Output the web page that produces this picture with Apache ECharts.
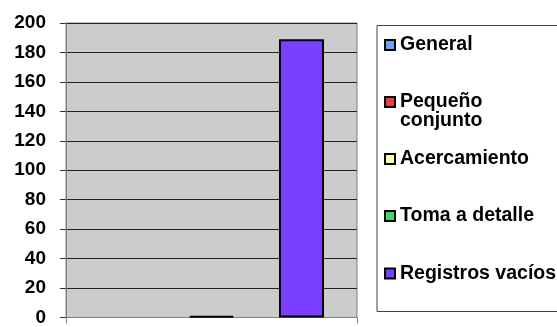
<!DOCTYPE html>
<html>
<head>
<meta charset="utf-8">
<script src="https://cdn.jsdelivr.net/npm/echarts@6/dist/echarts.min.js"></script>
<style>html,body{margin:0;padding:0;background:#fff}#c{width:557px;height:327px}</style>
</head>
<body>
<div id="c"></div>
<script>
var categories = [''];
var seriesNames = ['General', 'Pequeño conjunto', 'Acercamiento', 'Toma a detalle', 'Registros vacíos'];
var generalValues = [null];
var pequenoValues = [null];
var acercamientoValues = [1];
var tomaValues = [null];
var registrosValues = [189];
var yTicks = { min: 0, max: 200, interval: 20 };

var seriesValues = [generalValues, pequenoValues, acercamientoValues, tomaValues, registrosValues];
var colors = ['#63A4F7', '#E5443B', '#FFFF99', '#45D36B', '#7B3FFF'];
var legendCenters = [44.5, 102, 158.5, 215.5, 273];
var FONT = "'Liberation Sans', Arial, sans-serif";

var chart = echarts.init(document.getElementById('c'), null, { renderer: 'canvas' });

var legends = seriesNames.map(function (name, i) {
  var twoLine = name === 'Pequeño conjunto';
  return {
    data: [name],
    orient: 'vertical',
    left: 384,
    top: twoLine ? legendCenters[i] - 29 : legendCenters[i] - 9.5,
    padding: 0,
    itemWidth: 10,
    itemHeight: 10,
    icon: 'rect',
    selectedMode: false,
    itemStyle: { borderColor: '#000', borderWidth: 2 },
    formatter: twoLine ? function () { return ' \nPequeño\nconjunto'; } : '{name}',
    textStyle: {
      fontFamily: FONT, fontWeight: 'bold', fontSize: 19.5, color: '#000',
      lineHeight: 19
    }
  };
});

chart.setOption({
  animation: false,
  backgroundColor: '#fff',
  color: colors,
  grid: {
    left: 66, right: 200, top: 23, bottom: 8,
    show: true, backgroundColor: '#CCCCCC', borderColor: '#808080', borderWidth: 1
  },
  legend: legends,
  graphic: [{
    type: 'rect', left: 376.5, top: 25, z: -1,
    shape: { width: 200, height: 286 },
    style: { fill: '#fff', stroke: '#404040', lineWidth: 1 }
  }],
  xAxis: {
    type: 'category',
    data: categories,
    axisLine: { show: true, lineStyle: { color: '#808080', width: 1 } },
    axisTick: { show: true, length: 6, lineStyle: { color: '#808080' } },
    axisLabel: { show: false },
    splitLine: { show: false }
  },
  yAxis: {
    type: 'value',
    min: yTicks.min, max: yTicks.max, interval: yTicks.interval,
    axisLine: { show: true, lineStyle: { color: '#808080', width: 1 } },
    axisTick: { show: true, length: 6, lineStyle: { color: '#333' } },
    axisLabel: { margin: 20, fontFamily: FONT, fontWeight: 'bold', fontSize: 19, color: '#000' },
    splitLine: { show: true, lineStyle: { color: '#222', width: 1 } }
  },
  series: seriesNames.map(function (name, i) {
    return {
      type: 'bar',
      name: name,
      data: seriesValues[i],
      barGap: '0%',
      barCategoryGap: '22.7%',
      itemStyle: { color: colors[i], borderColor: '#000', borderWidth: 2 }
    };
  })
});
</script>
</body>
</html>
